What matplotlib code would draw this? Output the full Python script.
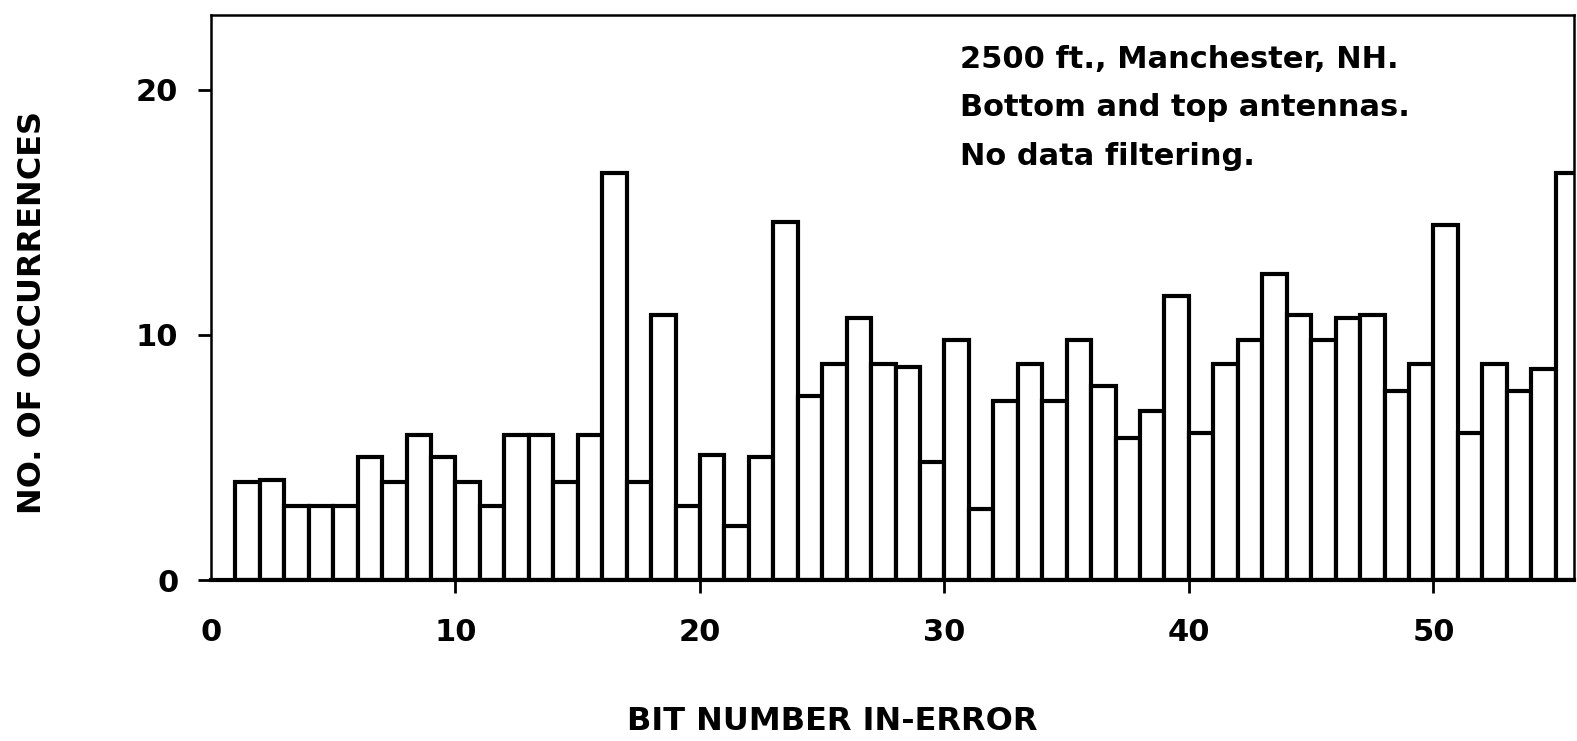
import matplotlib
matplotlib.use("Agg")
import matplotlib.pyplot as plt

# ---- data ----
bits = list(range(1, 56))
counts = [4.0, 4.1, 3.0, 3.0, 3.0, 5.0, 4.0, 5.9, 5.0, 4.0,
          3.0, 5.9, 5.9, 4.0, 5.9, 16.6, 4.0, 10.8, 3.0, 5.1,
          2.2, 5.0, 14.6, 7.5, 8.8, 10.7, 8.8, 8.7, 4.8, 9.8,
          2.9, 7.3, 8.8, 7.3, 9.8, 7.9, 5.8, 6.9, 11.6, 6.0,
          8.8, 9.8, 12.5, 10.8, 9.8, 10.7, 10.8, 7.7, 8.8, 14.5,
          6.0, 8.8, 7.7, 8.6, 16.6]
xticks = [0, 10, 20, 30, 40, 50]
yticks = [0, 10, 20]
note_lines = ["2500 ft., Manchester, NH.",
              "Bottom and top antennas.",
              "No data filtering."]
xlabel = "BIT NUMBER IN-ERROR"
ylabel = "NO. OF OCCURRENCES"

plt.rcParams['font.family'] = ['DejaVu Sans']
plt.rcParams['font.weight'] = 'bold'

W, H = 1577, 741
fig = plt.figure(figsize=(W / 100, H / 100), dpi=100)
L, R, T, B = 211, 1574, 15, 580
ax = fig.add_axes([L / W, 1 - B / H, (R - L) / W, (B - T) / H])

ax.bar(bits, counts, width=1.0, align='edge', facecolor='white',
       edgecolor='black', linewidth=3.0, zorder=2)

ax.set_xlim(0, 55.75)
ax.set_ylim(0, 23.06)

for s in ax.spines.values():
    s.set_linewidth(1.8)
ax.spines['bottom'].set_linewidth(3.0)

ax.set_xticks(xticks)
ax.set_xticklabels([str(v) for v in xticks], fontsize=22, fontweight='bold')
ax.set_yticks(yticks)
ax.set_yticklabels([str(v) for v in yticks], fontsize=22, fontweight='bold')
ax.tick_params(axis='x', direction='out', length=9.5, width=2.0, pad=18)
ax.tick_params(axis='y', direction='out', length=9.5, width=2.0, pad=14)
ax.tick_params(top=False, right=False)
ax.xaxis.get_major_ticks()[0].tick1line.set_visible(False)

ax.set_xlabel(xlabel, fontsize=23, fontweight='bold')
ax.xaxis.set_label_coords(0.456, -0.2230)
ax.set_ylabel(ylabel, fontsize=23, fontweight='bold')
ax.yaxis.set_label_coords(-0.1196, 0.474)

ax.text(0.5495, 0.947, "\n".join(note_lines), transform=ax.transAxes,
        ha='left', va='top', fontsize=22, fontweight='bold',
        linespacing=1.85, zorder=3)

fig.savefig("out.png", dpi=100, facecolor='white')
